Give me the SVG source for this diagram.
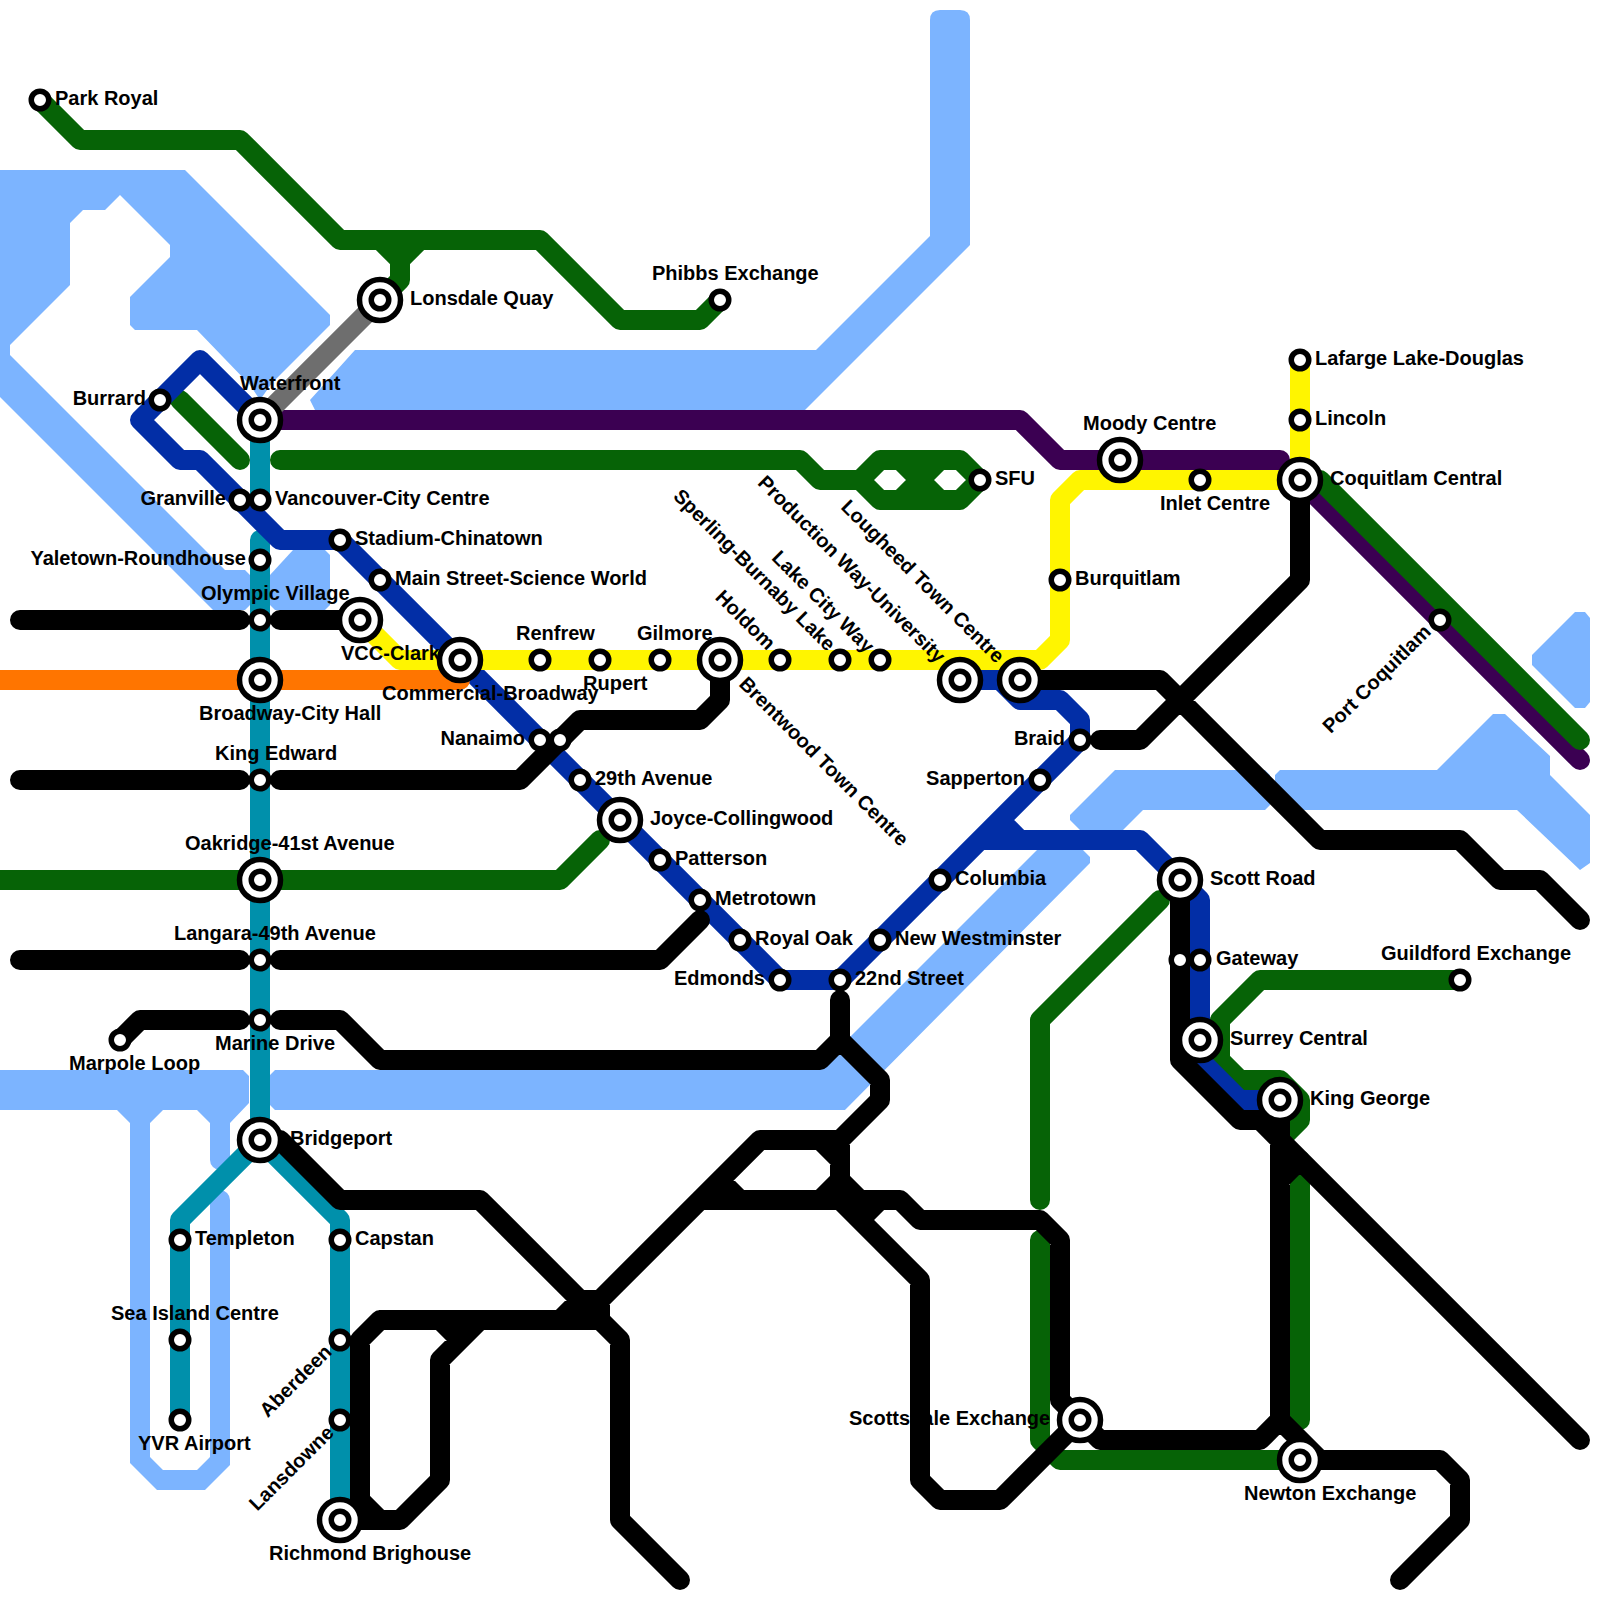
<svg xmlns="http://www.w3.org/2000/svg" width="1600" height="1600" viewBox="0 0 1600 1600">
<style>
.w{fill:#7cb4ff}
.l{fill:none;stroke-width:20;stroke-linecap:round;stroke-linejoin:round}
.teal{stroke:#0090ab}.blue{stroke:#022ea6}.yellow{stroke:#fff500}.orange{stroke:#ff7500}.purple{stroke:#3b0052}.green{stroke:#066306}.gray{stroke:#6e6e6e}.black{stroke:#000}
.s{fill:#fff;stroke:#000;stroke-width:5.5}
text{font-family:"Liberation Sans",Arial,sans-serif;font-weight:700;font-size:20px;fill:#000}
.e{text-anchor:end}
</style>
<rect width="1600" height="1600" fill="#fff"/>
<g id="water">
<path class="w" d="M0 170H185L330 315V325L272 383L260 400L250 385L197 330H135L130 325V297L170 257V245L120 195L105 210H83L70 223V285L10 345V355L225 570H245L250 575V605L245 610H213L0 397Z"/>
<path class="w" d="M270 575L293 550H325L330 555V605L325 610H275L270 605Z"/>
<path class="w" d="M355 350H816L930 236V20Q930 10 940 10H960Q970 10 970 20V245L805 410H315L310 400Z"/>
<path class="w" d="M275 1070H817L1037 850H1083L1090 857V863L845 1110H275L270 1105V1075Z"/>
<path class="w" d="M0 1070H243L249 1076V1103L230 1123V1160A10 10 0 0 1 210 1160V1123L197 1110H163L150 1123V1457L163 1470H197L210 1457V1200A10 10 0 0 1 230 1200V1465L205 1490H157L130 1463V1123L117 1110H0Z"/>
<path class="w" d="M1575 612H1585L1590 618V702L1585 708H1575L1532 665V655Z"/>
<path class="w" d="M1115 770H1265L1270 775V805L1265 810H1143L1123 830H1080L1070 820V815Z"/>
<path class="w" d="M1275 775L1280 770H1437L1493 714H1505L1550 756V775L1590 815V863L1580 870L1517 810H1280L1275 805Z"/>
</g>
<g id="connectors">
<path class="l teal" d="M260 420V500M260 540V1140M180 1420V1220L260 1140L340 1220V1520"/>
<path class="l purple" d="M260 420H1020L1060 460H1280M1300 480L1580 760"/>
<path class="l green" d="M40 100L80 140H240L340 240H540L620 320H700L720 300M380 240L400 260V280L380 300M420 240L400 260M180 400L240 460M280 460H800L820 480H860L880 460H960L980 480L960 500H880L860 480M900 460L940 500M940 460L900 500M0 880H560L600 840M1460 980H1260L1220 1020V1060L1240 1080H1280L1300 1100V1120L1280 1140M1300 1160V1420M1160 900L1040 1020V1200M1040 1240V1440L1060 1460H1300M1320 480L1580 740"/>
<path class="l blue" d="M260 420L200 360L140 420L180 460H200L280 540H340L780 980H840L1080 740V720L1060 700H1020L1000 680M960 680H1020M1000 820L1020 840M980 840H1140L1200 900V1060L1240 1100H1280"/>
<path class="l yellow" d="M1300 360V480H1080L1060 500V640L1040 660H460M360 620L400 660H460"/>
<path class="l orange" d="M0 680H460"/>
<path class="l gray" d="M260 420L380 300"/>
<path class="l black" d="M20 620H240M280 620H360M20 780H240M280 780H520L580 720H700L720 700V660M20 960H240M280 960H660L700 920M120 1040L140 1020H240M280 1020H340L380 1060H820L840 1040V1000M840 1040L880 1080V1100L840 1140H760L600 1300H580L560 1320M600 1300V1320M700 1200H900L920 1220H1040L1060 1240V1400L1080 1420L1100 1440H1260L1280 1420V1100M1280 1420L1320 1460M820 1140L840 1160M840 1140V1180L820 1200M840 1180L860 1200M840 1200L920 1280V1480L940 1500H1000L1080 1420M720 1180L740 1200M880 1200L860 1220M280 1140L340 1200H480L620 1340V1520L680 1580M340 1520H400L440 1480V1360L480 1320M440 1320L460 1340M380 1320H600M380 1320L360 1340V1500L380 1520M1020 680H1160L1320 840H1460L1500 880H1540L1580 920M1300 480V580L1140 740H1100M1180 880V1060L1240 1120H1260L1580 1440M1280 1180L1300 1160M1300 1460H1440L1460 1480V1520L1400 1580"/>
</g>
<g id="labels">
<text x="55" y="105">Park Royal</text>
<text x="410" y="305">Lonsdale Quay</text>
<text x="240" y="390">Waterfront</text>
<text x="146" y="405" class="e">Burrard</text>
<text x="226" y="505" class="e">Granville</text>
<text x="275" y="505">Vancouver-City Centre</text>
<text x="355" y="545">Stadium-Chinatown</text>
<text x="395" y="585">Main Street-Science World</text>
<text x="246" y="565" class="e">Yaletown-Roundhouse</text>
<text x="201" y="600">Olympic Village</text>
<text x="341" y="660">VCC-Clark</text>
<text x="382" y="700">Commercial-Broadway</text>
<text x="516" y="640">Renfrew</text>
<text x="583" y="690">Rupert</text>
<text x="637" y="640">Gilmore</text>
<text x="199" y="720">Broadway-City Hall</text>
<text x="215" y="760">King Edward</text>
<text x="525" y="745" class="e">Nanaimo</text>
<text x="595" y="785">29th Avenue</text>
<text x="650" y="825">Joyce-Collingwood</text>
<text x="675" y="865">Patterson</text>
<text x="715" y="905">Metrotown</text>
<text x="755" y="945">Royal Oak</text>
<text x="765" y="985" class="e">Edmonds</text>
<text x="855" y="985">22nd Street</text>
<text x="895" y="945">New Westminster</text>
<text x="955" y="885">Columbia</text>
<text x="1025" y="785" class="e">Sapperton</text>
<text x="1065" y="745" class="e">Braid</text>
<text x="1075" y="585">Burquitlam</text>
<text x="995" y="485">SFU</text>
<text x="1083" y="430">Moody Centre</text>
<text x="1160" y="510">Inlet Centre</text>
<text x="1315" y="365">Lafarge Lake-Douglas</text>
<text x="1315" y="425">Lincoln</text>
<text x="1330" y="485">Coquitlam Central</text>
<text x="1210" y="885">Scott Road</text>
<text x="1216" y="965">Gateway</text>
<text x="1381" y="960">Guildford Exchange</text>
<text x="1230" y="1045">Surrey Central</text>
<text x="1310" y="1105">King George</text>
<text x="849" y="1425">Scottsdale Exchange</text>
<text x="1244" y="1500">Newton Exchange</text>
<text x="652" y="280">Phibbs Exchange</text>
<text x="215" y="1050">Marine Drive</text>
<text x="69" y="1070">Marpole Loop</text>
<text x="290" y="1145">Bridgeport</text>
<text x="195" y="1245">Templeton</text>
<text x="355" y="1245">Capstan</text>
<text x="111" y="1320">Sea Island Centre</text>
<text x="138" y="1450">YVR Airport</text>
<text x="269" y="1560">Richmond Brighouse</text>
<text x="185" y="850">Oakridge-41st Avenue</text>
<text x="174" y="940">Langara-49th Avenue</text>
<text class="e" transform="translate(333 1353) rotate(-45)">Aberdeen</text>
<text class="e" transform="translate(335 1434) rotate(-45)">Lansdowne</text>
<text class="e" transform="translate(1432 633) rotate(-45)">Port Coquitlam</text>
<text class="e" transform="translate(767 651) rotate(45)">Holdom</text>
<text class="e" transform="translate(827 652) rotate(45)">Sperling-Burnaby Lake</text>
<text class="e" transform="translate(866 654) rotate(45)">Lake City Way</text>
<text class="e" transform="translate(937 664) rotate(45)">Production Way-University</text>
<text class="e" transform="translate(996 664) rotate(45)">Lougheed Town Centre</text>
<text transform="translate(738 685) rotate(45)">Brentwood Town Centre</text>
</g>
<defs>
<g id="sm"><circle r="8.75" class="s"/></g>
<g id="bg"><circle r="20.5" class="s"/><circle r="8.75" class="s"/></g>
</defs>
<g id="n-park-royal"><use href="#sm" x="40" y="100"/></g>
<g id="n-phibbs"><use href="#sm" x="720" y="300"/></g>
<g id="n-lonsdale"><use href="#bg" x="380" y="300"/></g>
<g id="n-waterfront"><use href="#bg" x="260" y="420"/></g>
<g id="n-burrard"><use href="#sm" x="160" y="400"/></g>
<g id="n-granville"><use href="#sm" x="240" y="500"/></g>
<g id="n-vcc"><use href="#sm" x="260" y="500"/></g>
<g id="n-stadium"><use href="#sm" x="340" y="540"/></g>
<g id="n-main"><use href="#sm" x="380" y="580"/></g>
<g id="n-yaletown"><use href="#sm" x="260" y="560"/></g>
<g id="n-olympic"><use href="#sm" x="260" y="620"/></g>
<g id="n-vccclark"><use href="#bg" x="360" y="620"/></g>
<g id="n-commercial"><use href="#bg" x="460" y="660"/></g>
<g id="n-broadway"><use href="#bg" x="260" y="680"/></g>
<g id="n-kingedward"><use href="#sm" x="260" y="780"/></g>
<g id="n-oakridge"><use href="#bg" x="260" y="880"/></g>
<g id="n-langara"><use href="#sm" x="260" y="960"/></g>
<g id="n-marine"><use href="#sm" x="260" y="1020"/></g>
<g id="n-marpole"><use href="#sm" x="120" y="1040"/></g>
<g id="n-bridgeport"><use href="#bg" x="260" y="1140"/></g>
<g id="n-templeton"><use href="#sm" x="180" y="1240"/></g>
<g id="n-seaisland"><use href="#sm" x="180" y="1340"/></g>
<g id="n-yvr"><use href="#sm" x="180" y="1420"/></g>
<g id="n-capstan"><use href="#sm" x="340" y="1240"/></g>
<g id="n-aberdeen"><use href="#sm" x="340" y="1340"/></g>
<g id="n-lansdowne"><use href="#sm" x="340" y="1420"/></g>
<g id="n-richmond"><use href="#bg" x="340" y="1520"/></g>
<g id="n-renfrew"><use href="#sm" x="540" y="660"/></g>
<g id="n-rupert"><use href="#sm" x="600" y="660"/></g>
<g id="n-gilmore"><use href="#sm" x="660" y="660"/></g>
<g id="n-brentwood"><use href="#bg" x="720" y="660"/></g>
<g id="n-holdom"><use href="#sm" x="780" y="660"/></g>
<g id="n-sperling"><use href="#sm" x="840" y="660"/></g>
<g id="n-lakecity"><use href="#sm" x="880" y="660"/></g>
<g id="n-production"><use href="#bg" x="960" y="680"/></g>
<g id="n-lougheed"><use href="#bg" x="1020" y="680"/></g>
<g id="n-nanaimo"><use href="#sm" x="540" y="740"/></g>
<g id="n-nanaimo2"><use href="#sm" x="560" y="740"/></g>
<g id="n-29th"><use href="#sm" x="580" y="780"/></g>
<g id="n-joyce"><use href="#bg" x="620" y="820"/></g>
<g id="n-patterson"><use href="#sm" x="660" y="860"/></g>
<g id="n-metrotown"><use href="#sm" x="700" y="900"/></g>
<g id="n-royaloak"><use href="#sm" x="740" y="940"/></g>
<g id="n-edmonds"><use href="#sm" x="780" y="980"/></g>
<g id="n-22nd"><use href="#sm" x="840" y="980"/></g>
<g id="n-newwest"><use href="#sm" x="880" y="940"/></g>
<g id="n-columbia"><use href="#sm" x="940" y="880"/></g>
<g id="n-sapperton"><use href="#sm" x="1040" y="780"/></g>
<g id="n-braid"><use href="#sm" x="1080" y="740"/></g>
<g id="n-burquitlam"><use href="#sm" x="1060" y="580"/></g>
<g id="n-sfu"><use href="#sm" x="980" y="480"/></g>
<g id="n-moody"><use href="#bg" x="1120" y="460"/></g>
<g id="n-inlet"><use href="#sm" x="1200" y="480"/></g>
<g id="n-coquitlam"><use href="#bg" x="1300" y="480"/></g>
<g id="n-lincoln"><use href="#sm" x="1300" y="420"/></g>
<g id="n-lafarge"><use href="#sm" x="1300" y="360"/></g>
<g id="n-portcoq"><use href="#sm" x="1440" y="620"/></g>
<g id="n-scott"><use href="#bg" x="1180" y="880"/></g>
<g id="n-gateway1"><use href="#sm" x="1180" y="960"/></g>
<g id="n-gateway2"><use href="#sm" x="1200" y="960"/></g>
<g id="n-surrey"><use href="#bg" x="1200" y="1040"/></g>
<g id="n-kinggeorge"><use href="#bg" x="1280" y="1100"/></g>
<g id="n-guildford"><use href="#sm" x="1460" y="980"/></g>
<g id="n-scottsdale"><use href="#bg" x="1080" y="1420"/></g>
<g id="n-newton"><use href="#bg" x="1300" y="1460"/></g>
</svg>
